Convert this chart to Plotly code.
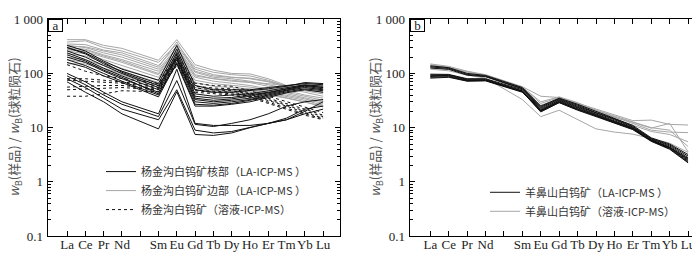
import plotly.graph_objects as go

# ---------------- data ----------------
ELEMENTS = ["La", "Ce", "Pr", "Nd", "Pm", "Sm", "Eu", "Gd", "Tb", "Dy", "Ho", "Er", "Tm", "Yb", "Lu"]
TICK_LABELS = ["La", "Ce", "Pr", "Nd", "", "Sm", "Eu", "Gd", "Tb", "Dy", "Ho", "Er", "Tm", "Yb", "Lu"]
Y_TICK_VALUES = [0.1, 1, 10, 100, 1000]
Y_TICK_LABELS = ["0.1", "1", "10", "100", "1 000"]

# Panel a: 杨金沟白钨矿 rim (LA-ICP-MS), gray
yjg_rim = [
    [420, 420, 330, 290, None, 175, 420, 145, 115, 100, 98, 80, 60, 55, 50],
    [380, 400, 300, 260, None, 160, 350, 130, 105, 95, 90, 75, 58, 50, 45],
    [350, 340, 270, 240, None, 140, 320, 120, 95, 85, 80, 70, 55, 48, 42],
    [330, 300, 240, 200, None, 120, 300, 105, 85, 80, 72, 62, 52, 45, 38],
    [300, 280, 220, 180, None, 110, 280, 95, 80, 72, 68, 58, 48, 40, 35],
    [280, 250, 200, 160, None, 95, 260, 85, 72, 66, 60, 52, 45, 38, 32],
    [260, 230, 180, 140, None, 85, 250, 75, 65, 60, 56, 50, 42, 36, 30],
    [230, 210, 160, 125, None, 75, 230, 68, 58, 55, 52, 46, 40, 34, 28],
    [200, 180, 140, 110, None, 68, 210, 60, 52, 50, 48, 44, 38, 32, 26],
    [180, 160, 125, 100, None, 60, 200, 55, 48, 46, 45, 42, 36, 30, 24],
    [150, 150, 120, 95, None, 55, 180, 50, 45, 44, 42, 40, 35, 30, 25],
    [320, 310, 260, 220, None, 130, 380, 110, 90, 85, 82, 72, 58, 60, 60],
    [270, 270, 210, 170, None, 100, 300, 90, 80, 75, 70, 65, 60, 65, 65],
]

# Panel a: 杨金沟白钨矿 core (LA-ICP-MS), black
yjg_core = [
    [330, 260, 170, 120, None, 75, 330, 60, 50, 50, 50, 55, 60, 65, 62],
    [300, 230, 150, 110, None, 65, 280, 50, 45, 45, 48, 52, 58, 68, 65],
    [260, 200, 140, 100, None, 55, 245, 42, 38, 40, 42, 48, 55, 62, 58],
    [240, 180, 125, 90, None, 50, 220, 38, 35, 36, 40, 45, 52, 60, 55],
    [200, 160, 110, 80, None, 45, 200, 33, 30, 32, 35, 42, 50, 58, 52],
    [180, 140, 100, 72, None, 40, 180, 30, 28, 30, 33, 40, 48, 55, 50],
    [160, 130, 90, 68, None, 37, 160, 27, 26, 28, 32, 38, 46, 52, 48],
    [220, 170, 115, 85, None, 42, 150, 25, 25, 27, 30, 36, 44, 50, 45],
    [300, 240, 160, 105, None, 60, 190, 35, 32, 34, 38, 44, 52, 60, 55],
    [100, 70, 45, 30, None, 18, 120, 12, 11, 11, 11, 12, 14, 20, 30],
    [90, 62, 40, 27, None, 16, 74, 11.5, 10.5, 12, 14, 18, 25, 30, 33],
    [80, 55, 35, 22, None, 14, 50, 9, 8, 8.5, 10, 12, 15, 22, 25],
    [70, 45, 30, 18, None, 9.5, 46, 7.5, 7.2, 8, 10, 12, 14, 18, 22],
]

# Panel a: 杨金沟白钨矿 (solution ICP-MS), dotted
yjg_sol = [
    [145, 110, 90, 80, None, 65, 230, 66, 60, 58, 48, 38, 30, 24, 19],
    [80, 80, 75, 70, None, 60, 200, 58, 54, 52, 44, 35, 28, 22, 17],
    [75, 72, 70, 66, None, 55, 180, 54, 50, 48, 42, 33, 26, 20, 16],
    [56, 58, 60, 60, None, 52, 160, 50, 47, 45, 40, 32, 25, 19, 15],
    [50, 52, 53, 55, None, 50, 150, 48, 45, 42, 38, 30, 23, 18, 14.5],
    [38, 38, 42, 48, None, 46, 140, 45, 42, 40, 36, 28, 22, 17, 14],
]

# Panel b: 羊鼻山白钨矿 (LA-ICP-MS), black
ybs_la = [
    [138, 128, 100, 92, None, 55, 25, 35, 27, 20, 15, 11, 6.5, 5.0, 3.2],
    [132, 124, 96, 89, None, 53, 24, 34, 26, 19, 14.5, 10.6, 6.3, 4.8, 3.0],
    [126, 119, 93, 87, None, 52, 23, 33, 25, 18.5, 14, 10.3, 6.2, 4.6, 2.8],
    [97, 96, 80, 80, None, 50, 22, 32, 24, 18, 13.5, 10, 6.0, 4.4, 2.6],
    [94, 94, 78, 78, None, 48, 21, 31, 23, 17.5, 13, 9.8, 5.9, 4.3, 2.5],
    [91, 92, 76, 76, None, 47, 20.5, 30, 22, 17, 12.8, 9.6, 5.8, 4.2, 2.4],
    [88, 90, 74, 75, None, 46, 20, 29, 21.5, 16.5, 12.5, 9.4, 5.7, 4.1, 2.3],
    [85, 87, 73, 74, None, 46, 19.5, 29, 21, 16, 12.2, 9.2, 5.6, 4.0, 2.25],
    [82, 85, 72, 73, None, 45, 21, 30, 22, 16.5, 12.5, 9.5, 5.8, 4.3, 2.7],
]

# Panel b: 羊鼻山白钨矿 (solution ICP-MS), gray
ybs_sol = [
    [150, 135, 110, 95, None, 57, 38, 36, 28, 22, 17, 13.5, 13.8, 11.5, 11.2],
    [120, 112, 93, 82, None, 33, 16, 21, 14, 9.5, 8.3, 7.6, 6.3, 5.2, 3.5],
    [140, 128, 100, 90, None, 52, 25, 35, 28, 20, 15.5, 12.5, 9.8, 12, 3.6],
    [135, 125, 105, 92, None, 55, 28, 36, 27, 21, 16, 12, 9, 8.3, 8.1],
    [128, 120, 100, 88, None, 50, 26, 34, 25, 19, 14.5, 11, 8.5, 7.5, 5.5],
    [145, 130, 108, 93, None, 56, 30, 37, 29, 21, 16.5, 13, 10, 9, 4.5],
]

LEG_A = ["杨金沟白钨矿核部（LA-ICP-MS ）", "杨金沟白钨矿边部（LA-ICP-MS ）", "杨金沟白钨矿（溶液-ICP-MS）"]
LEG_B = ["羊鼻山白钨矿（LA-ICP-MS ）", "羊鼻山白钨矿（溶液-ICP-MS）"]

# ---------------- styles ----------------
BLACK = "#111111"
GRAY = "#a6a6a6"
SERIF = "Liberation Serif"

fig = go.Figure()


def add_group(series, name, color, dash, xa, ya, legend, group, rank, width=1):
    for i, ys in enumerate(series):
        fig.add_trace(go.Scatter(
            x=ELEMENTS, y=ys, mode="lines", connectgaps=True,
            line=dict(color=color, width=width, dash=dash),
            name=name, legendgroup=group, showlegend=(i == 0), legendrank=rank,
            legend=legend, xaxis=xa, yaxis=ya, hoverinfo="skip"))


add_group(yjg_rim, LEG_A[1], GRAY, "solid", "x", "y", "legend", "a2", 2)
add_group(yjg_sol, LEG_A[2], BLACK, "dot", "x", "y", "legend", "a3", 3)
add_group(yjg_core, LEG_A[0], BLACK, "solid", "x", "y", "legend", "a1", 1)
add_group(ybs_sol, LEG_B[1], GRAY, "solid", "x2", "y2", "legend2", "b2", 2)
add_group(ybs_la, LEG_B[0], BLACK, "solid", "x2", "y2", "legend2", "b1", 1)

minor_vals = [m * 10 ** e for e in range(-1, 3) for m in range(2, 10)]

xcommon = dict(
    type="category", categoryorder="array", categoryarray=ELEMENTS,
    tickmode="array", tickvals=ELEMENTS, ticktext=TICK_LABELS, tickangle=0,
    ticks="inside", ticklen=5, tickwidth=1, tickcolor="black",
    showline=True, linecolor="black", linewidth=1, mirror="ticks",
    showgrid=False, zeroline=False, ticklabeloverflow="allow", ticklabelstandoff=-4,
    tickfont=dict(family=SERIF, size=13, color="#222"),
)
ycommon = dict(
    type="log", range=[-1, 3],
    tickmode="array", tickvals=Y_TICK_VALUES, ticktext=Y_TICK_LABELS,
    ticks="inside", ticklen=5, tickwidth=1, tickcolor="black",
    minor=dict(tickmode="array", tickvals=minor_vals, ticks="inside", ticklen=3,
               tickwidth=1, tickcolor="black", showgrid=False),
    showline=True, linecolor="black", linewidth=1, mirror="ticks",
    showgrid=False, zeroline=False, ticklabeloverflow="allow", ticklabelstandoff=1,
    tickfont=dict(family=SERIF, size=13, color="#222"),
)

ydom = [1 - 235 / 254, 1 - 4.5 / 254]
fig.update_layout(
    width=700, height=254,
    margin=dict(l=0, r=0, t=0, b=0),
    paper_bgcolor="white", plot_bgcolor="white",
    xaxis=dict(xcommon, domain=[39.5 / 700, 332.3 / 700], range=[-1.07, 14.94], anchor="y"),
    yaxis=dict(ycommon, domain=ydom, anchor="x"),
    xaxis2=dict(xcommon, domain=[401.7 / 700, 693.3 / 700], range=[-1.12, 14.72], anchor="y2"),
    yaxis2=dict(ycommon, domain=ydom, anchor="x2"),
    legend=dict(x=93 / 700, y=1 - 151 / 254, xanchor="left", yanchor="top",
                bgcolor="rgba(0,0,0,0)", tracegroupgap=13, traceorder="normal",
                font=dict(family="Noto Sans CJK SC", size=11, color="#333")),
    legend2=dict(x=477 / 700, y=1 - 173 / 254, xanchor="left", yanchor="top",
                 bgcolor="rgba(0,0,0,0)", tracegroupgap=2, traceorder="normal",
                 font=dict(family="Noto Sans CJK SC", size=11, color="#333")),
    showlegend=True,
)

ytitle = "<i>w</i><sub>B</sub>(样品) / <i>w</i><sub>B</sub>(球粒陨石)"
for xc, lab, xdom in [(7, "a", 39.5), (368, "b", 401.7)]:
    fig.add_annotation(x=xc / 700, y=(ydom[0] + ydom[1]) / 2, xref="paper", yref="paper",
                       xanchor="center", yanchor="middle",
                       text=ytitle, textangle=-90, showarrow=False,
                       font=dict(family="Noto Sans CJK SC", size=13, color="#555"))
    fig.add_annotation(x=xdom / 700, y=ydom[1], xref="paper", yref="paper",
                       xanchor="left", yanchor="top", text=lab, showarrow=False,
                       width=13, height=11, borderpad=0, bordercolor="black", borderwidth=1,
                       bgcolor="white", font=dict(family=SERIF, size=13, color="#222"))

fig.write_html("out.html")
